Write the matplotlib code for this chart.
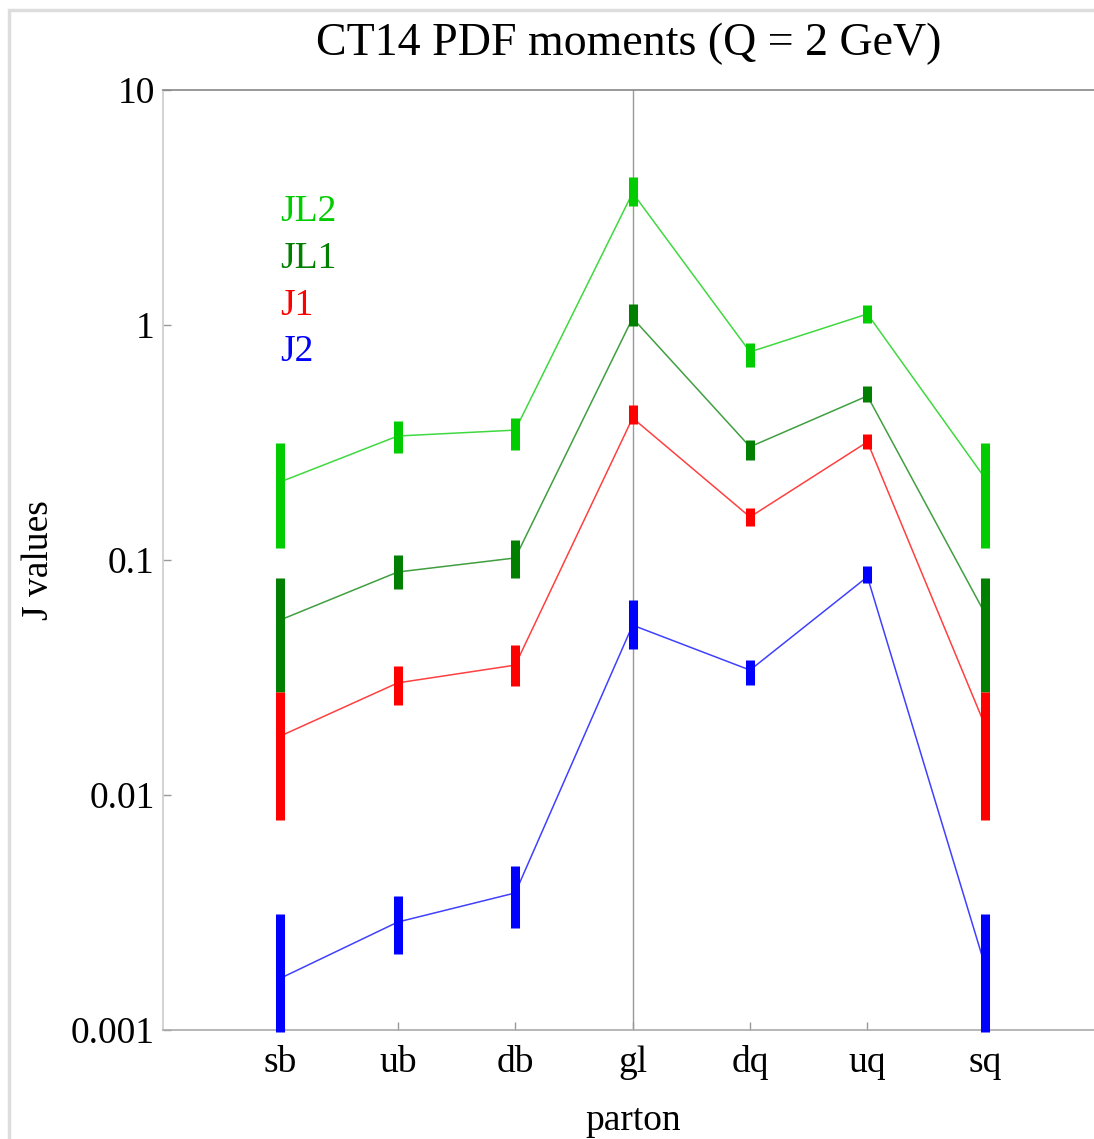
import numpy as np
from matplotlib import pyplot as plt
from matplotlib.patches import Rectangle

plt.rcParams['font.family'] = ['Liberation Serif', 'DejaVu Serif']

partons = ['sb', 'ub', 'db', 'gl', 'dq', 'uq', 'sq']

# central values and error ranges
jl2_c = [0.215, 0.337, 0.357, 3.65, 0.768, 1.114, 0.2235]
jl2_lo = [0.1125, 0.285, 0.294, 3.21, 0.662, 1.02, 0.1125]
jl2_hi = [0.315, 0.390, 0.402, 4.26, 0.837, 1.22, 0.315]

jl1_c = [0.0556, 0.0889, 0.102, 1.07, 0.303, 0.499, 0.0594]
jl1_lo = [0.0274, 0.0753, 0.0837, 0.991, 0.267, 0.470, 0.0274]
jl1_hi = [0.0837, 0.105, 0.1216, 1.23, 0.324, 0.549, 0.0837]

j1_c = [0.01782, 0.0300, 0.0357, 0.402, 0.1524, 0.318, 0.01986]
j1_lo = [0.00784, 0.0242, 0.0291, 0.380, 0.1397, 0.296, 0.00784]
j1_hi = [0.0274, 0.0354, 0.0435, 0.457, 0.1663, 0.344, 0.0274]

j2_c = [0.00166, 0.00288, 0.00383, 0.0528, 0.0340, 0.0848, 0.00189]
j2_lo = [0.00098, 0.00211, 0.00272, 0.0418, 0.0294, 0.0798, 0.00098]
j2_hi = [0.00312, 0.00372, 0.00499, 0.0676, 0.0375, 0.0942, 0.00312]

names = ['JL2', 'JL1', 'J1', 'J2']
colors = ['#00cc00', '#007f00', '#ff0000', '#0000ff']
series = [(jl2_c, jl2_lo, jl2_hi), (jl1_c, jl1_lo, jl1_hi),
          (j1_c, j1_lo, j1_hi), (j2_c, j2_lo, j2_hi)]

fig = plt.figure(figsize=(10.94, 11.39), dpi=100)
ax = fig.add_axes([0.149, 0.0957, 0.851, 0.8253])

x = np.arange(1, len(partons) + 1)
for (c, lo, hi), col in zip(series, colors):
    ax.plot(x, c, color=col, lw=1.1, alpha=0.75, zorder=2)
for (c, lo, hi), col in zip(series, colors):
    ax.vlines(x, lo, hi, color=col, lw=6.5, zorder=3, clip_on=False)

ax.axvline(4, color='#999999', lw=1.0, zorder=1)

ax.set_yscale('log')
ax.set_ylim(0.001, 10)
ax.set_xlim(0, 7.93)
ax.set_yticks([0.001, 0.01, 0.1, 1, 10])
ax.set_yticklabels(['0.001', '0.01', '0.1', '1', '10'])
ax.minorticks_off()
ax.set_xticks(x)
ax.set_xticklabels(partons)
ax.tick_params(axis='both', direction='in', length=6, width=1, color='#999999', labelsize=27)
ax.tick_params(axis='y', pad=6)
ax.tick_params(axis='x', pad=11)

ax.spines['right'].set_visible(False)
ax.spines['left'].set_color('#cccccc')
ax.spines['bottom'].set_color('#aaaaaa')
ax.spines['top'].set_color('#888888')
for s in ax.spines.values():
    s.set_linewidth(1.2)

ax.set_xlabel('parton', fontsize=27)
ax.set_ylabel('J values', fontsize=27)
ax.xaxis.set_label_coords(0.505, -0.078)
ax.yaxis.set_label_coords(-0.115, 0.5)

ax.set_title('CT14 PDF moments (Q = 2 GeV)', fontsize=33, pad=25)

leg_y = [0.870, 0.820, 0.770, 0.721]
for name, col, yy in zip(names, colors, leg_y):
    ax.text(1, yy, name, color=col, fontsize=27, ha='left', va='center',
            transform=ax.get_xaxis_transform())

fig.patches.append(Rectangle((0.0085, -0.01), 1.2, 1.0015, transform=fig.transFigure,
                             fill=False, edgecolor='#dddddd', lw=2.5))

fig.savefig('out.png', dpi=100)
